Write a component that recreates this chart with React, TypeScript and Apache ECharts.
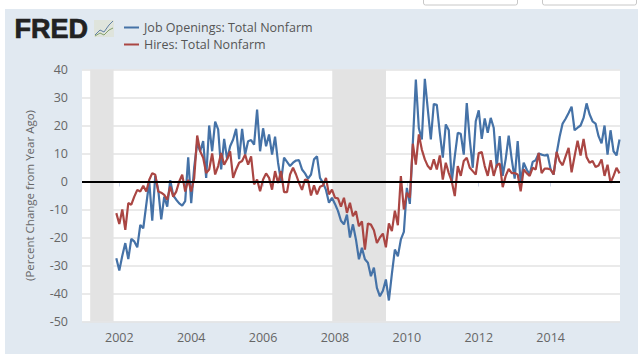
import React, { useEffect, useRef } from "react";
import * as echarts from "echarts";

const startYear = 2001 + 11 / 12; // Dec 2001
const jobOpenings = [
  -27.4,-31.8,-26.5,-22,-27.7,-20.5,-21.4,-23.5,-15.5,-16.7,-8.3,0,-14,2,-3,-13.5,-5.4,-9,0.5,-5,-6.5,-7.8,-8.6,-7,
  8.6,-7.7,5,13.8,10.8,14.4,1.3,20,10.8,21.4,18.6,4.3,15.2,7.9,12.6,15,18.8,8,18.8,9.6,14.4,14.8,13.2,25.7,
  10.8,19,12.6,16.8,9.6,16,6.7,0,8.5,7,5.5,6.7,7.5,7.6,4.3,2.9,1,2.5,7.9,9,1.3,-0.5,-3,-7.6,
  -5.8,-8,-10.5,-14,-15.3,-11.8,-20,-15.3,-20.7,-27.8,-23.7,-27.8,-29,-33.8,-30.8,-38,-41,-39,-35,-42.5,-33,-24.3,-26.7,-20.7,
  -18,-2.3,-8,13.8,36.4,19,15,36.7,25.7,15,27.7,27.4,17.4,8.5,20.4,18.3,0,9,17.4,17,9.6,28,15,4.9,
  21.5,25.4,15.2,22.5,17.4,22.7,19.2,5,16.2,2,8,16.4,8,1,14.4,-0.5,6.7,4.3,2.5,7,7.6,10,9.6,9.3,
  9.6,4.3,2.5,10,16,20.7,22.4,24.5,26.7,18.3,19.2,20,22.7,27.9,24,21.5,20.7,16.2,13.6,20,9.6,18.3,10.8,9.3,15,
];
const hires = [
  -11.3,-15.2,-10,-17.3,-7.7,-8.3,-5.4,-3,-3.6,-1.5,-3.6,0.6,3,2.4,-3.6,-4,-4.8,-6.5,-1.8,-5.4,-3.6,0,2.4,-3.6,
  0.6,-3.6,1.2,16.4,10.8,8.5,3,4.3,10,2.5,5.5,10.2,6,8,10.8,1.3,4.3,6.7,7.3,9.6,6,9,-1,0.7,
  -3.5,0.7,2.9,1.3,-2.9,3.7,-0.5,3.7,-3.8,-3.8,2.5,4.9,2.5,-0.5,-3,0.7,0.4,-5,-1.4,-4.6,-1.9,-1.4,1.3,-4.6,
  -2.9,-5.8,-6,-9,-5.8,-11.2,-7.6,-12.4,-10.6,-16,-14.2,-24.3,-15,-15.4,-17.4,-22,-20,-18.6,-23.5,-15,-17.7,-10.4,-15.6,1.9,
  -10,-4,-5.8,13.5,6,16.8,11.4,7.9,5.5,4.3,7.9,4.3,9.3,0.7,6.7,3,0,-5.2,5.5,2,7.3,8.5,4.9,3.7,
  2.5,10.2,10.5,5.5,2,7.6,2,5.8,6.4,-2,2,4.5,3,3,2.5,-3.5,4.3,3,2,4.9,4.3,10.2,3,4.6,
  4.6,4.3,2.5,10.6,7.3,5.8,9,12,3.3,9,14.6,9.3,15.2,8.7,6.7,7.3,5.2,5.7,7.9,2,6,-0.5,2,4.9,2.9,
];
const yearTicks = [2002, 2004, 2006, 2008, 2010, 2012, 2014];
const recessions = [
  [2001.19, 2001.84],
  [2007.925, 2009.42],
];
const seriesNames = ["Job Openings: Total Nonfarm", "Hires: Total Nonfarm"];
const yAxisTitle = "(Percent Change from Year Ago)";
const logoText = "FRED";
const toPairs = (vals: number[]) => vals.map((v, i) => [startYear + i / 12, v]);

export default function App() {
  const ref = useRef<HTMLDivElement>(null);
  useEffect(() => {
    document.body.style.margin = "0";
    const chart = echarts.init(ref.current!, undefined, { renderer: "svg" });
    const font = "'Open Sans', sans-serif";
    chart.setOption({
      animation: false,
      backgroundColor: "#ffffff",
      textStyle: { fontFamily: font },
      grid: { left: 82, right: 20, top: 69.5, bottom: 33.5, show: true, backgroundColor: "#ffffff", borderWidth: 0 },
      legend: {
        left: 119,
        top: 16,
        orient: "vertical",
        icon: "rect",
        itemWidth: 15,
        itemHeight: 2,
        itemGap: 4,
        selectedMode: false,
        data: seriesNames,
        textStyle: { color: "#555555", fontSize: 12.5, fontFamily: font, padding: [0, 0, 0, 0] },
      },
      xAxis: {
        type: "value",
        min: 2000.962,
        max: 2015.93,
        splitLine: { show: false },
        axisLine: { show: false },
        axisTick: { show: true, length: 5, customValues: yearTicks, lineStyle: { color: "#ccd6eb" } },
        axisLabel: {
          show: true,
          customValues: yearTicks,
          color: "#666666",
          fontSize: 12.5,
          margin: 9,
          formatter: (v: number) => String(Math.round(v)),
        },
      },
      yAxis: {
        type: "value",
        min: -50,
        max: 40,
        interval: 10,
        name: yAxisTitle,
        nameLocation: "middle",
        nameGap: 47,
        nameTextStyle: { color: "#666666", fontSize: 11.5 },
        axisLine: { show: false },
        axisTick: { show: false },
        axisLabel: { color: "#666666", fontSize: 12.5, margin: 14 },
        splitLine: { lineStyle: { color: "#e3e3e3", width: 1.5 } },
      },
      series: [
        {
          name: seriesNames[0],
          type: "line",
          data: toPairs(jobOpenings),
          showSymbol: false,
          lineStyle: { color: "#4572a7", width: 2.2 },
          itemStyle: { color: "#4572a7" },
          z: 3,
          markArea: {
            silent: true,
            itemStyle: { color: "#e3e3e3" },
            data: recessions.map((r) => [{ xAxis: r[0] }, { xAxis: r[1] }]),
          },
        },
        {
          name: seriesNames[1],
          type: "line",
          data: toPairs(hires),
          showSymbol: false,
          lineStyle: { color: "#aa4643", width: 2.2 },
          itemStyle: { color: "#aa4643" },
          z: 4,
          markLine: {
            silent: true,
            symbol: "none",
            label: { show: false },
            lineStyle: { color: "#000000", width: 2, type: "solid" },
            data: [{ yAxis: 0 }],
            z: 5,
          },
        },
      ],
      graphic: [
        { type: "rect", z: -10, silent: true, shape: { x: 5, y: 9, width: 633, height: 345 }, style: { fill: "#e1e9f1" } },
        { type: "rect", z: 1, silent: true, shape: { x: 423.5, y: -6, width: 94, height: 11, r: 2 }, style: { fill: "#fff", stroke: "#c8c8c8" } },
        { type: "rect", z: 1, silent: true, shape: { x: 542.5, y: -6, width: 94, height: 11, r: 2 }, style: { fill: "#fff", stroke: "#c8c8c8" } },
        {
          type: "text",
          z: 5,
          silent: true,
          x: 14.5,
          y: 15,
          style: { text: logoText, fontFamily: "'Liberation Sans', Arial, sans-serif", fontWeight: "bold", fontSize: 27, fill: "#222222", stroke: "#222222", lineWidth: 0.7 },
        },
        { type: "rect", z: 5, silent: true, shape: { x: 94, y: 20, width: 20, height: 17 }, style: { fill: "#dfe4dc" } },
        { type: "polyline", z: 6, silent: true, shape: { points: [[95, 35], [100, 30], [104, 32], [109, 25], [113, 21]] }, style: { stroke: "#5f7fa3", lineWidth: 1, fill: "none" } },
        { type: "polyline", z: 6, silent: true, shape: { points: [[95, 36], [100, 33], [104, 35], [109, 30], [113, 28]] }, style: { stroke: "#83a06a", lineWidth: 1, fill: "none" } },
      ],
    });
    return () => chart.dispose();
  }, []);
  return <div ref={ref} style={{ width: 640, height: 355 }} />;
}
